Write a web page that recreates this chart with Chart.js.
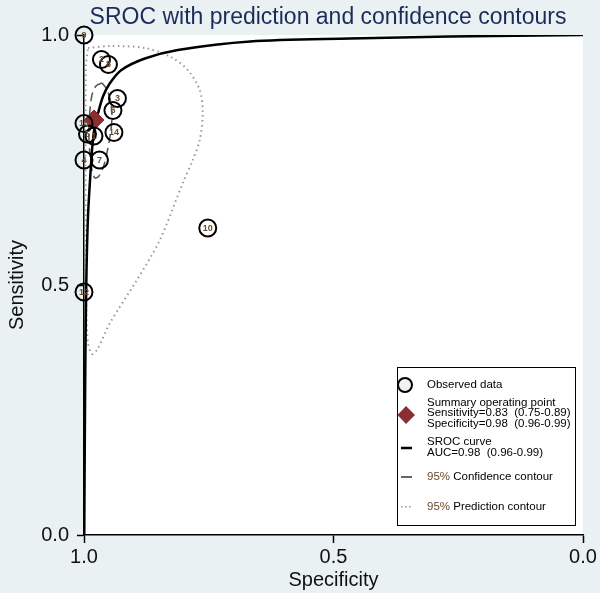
<!DOCTYPE html>
<html>
<head>
<meta charset="utf-8">
<script src="https://cdn.jsdelivr.net/npm/chart.js@4.4.1/dist/chart.umd.min.js"></script>
<style>
  html, body { margin: 0; padding: 0; background: #e9f1f3; }
  #wrap { width: 600px; height: 593px; }
</style>
</head>
<body>
<div id="wrap"><canvas id="sroc" width="600" height="593"></canvas></div>
<script>
// --- dados ---
const studyIds = ['9', '2', '8', '3', '6', '15', '14', '5', '1', '4', '7', '10', '12'];
const obsSpec = [1.000, 0.965, 0.951, 0.933, 0.942, 1.000, 0.940, 0.993, 0.980, 1.000, 0.969, 0.752, 1.000];
const obsSens = [1.000, 0.951, 0.941, 0.873, 0.849, 0.823, 0.805, 0.802, 0.798, 0.750, 0.750, 0.614, 0.486];

const summarySpec = [0.98];
const summarySens = [0.83];

// curva SROC
const srocSpec = [0.9995, 0.9974, 0.9954, 0.992, 0.9854, 0.984, 0.9786, 0.972, 0.962, 0.9485, 0.925, 0.878, 0.812, 0.667, 0.467, 0.267, 0.0];
const srocSens = [0.0, 0.337, 0.504, 0.637, 0.75, 0.77, 0.817, 0.843, 0.877, 0.903, 0.93, 0.953, 0.97, 0.987, 0.993, 0.997, 1.0];

// contorno de confiança 95%
const confSpec = [0.964, 0.976, 0.984, 0.988, 0.990, 0.990, 0.988, 0.984, 0.978, 0.970, 0.960, 0.952, 0.946, 0.944, 0.948, 0.956, 0.964];
const confSens = [0.904, 0.898, 0.880, 0.850, 0.820, 0.790, 0.760, 0.730, 0.714, 0.718, 0.740, 0.774, 0.810, 0.840, 0.874, 0.894, 0.904];

// contorno de predição 95%
const predSpec = [0.992, 0.946, 0.878, 0.826, 0.792, 0.768, 0.762, 0.768, 0.782, 0.802, 0.848, 0.894, 0.948, 0.974, 0.984, 0.992, 0.995, 0.996, 0.997, 0.997, 0.996, 0.992];
const predSens = [0.974, 0.978, 0.974, 0.956, 0.930, 0.890, 0.844, 0.790, 0.750, 0.704, 0.590, 0.510, 0.424, 0.370, 0.362, 0.384, 0.444, 0.570, 0.710, 0.850, 0.940, 0.974];

const xTicks = [1.0, 0.5, 0.0];
const yTicks = [0.0, 0.5, 1.0];

const toPts = (xs, ys) => xs.map((x, i) => ({ x: x, y: ys[i] }));

// fundo azul claro + área branca
const bgPlugin = {
  id: 'bg',
  beforeDraw(chart) {
    const { ctx, chartArea: a } = chart;
    ctx.save();
    ctx.fillStyle = '#e9f1f3';
    ctx.fillRect(0, 0, chart.width, chart.height);
    ctx.fillStyle = '#ffffff';
    ctx.fillRect(a.left, a.top, a.right - a.left, a.bottom - a.top);
    ctx.restore();
  }
};

// título, números dos estudos e legenda
const extrasPlugin = {
  id: 'extras',
  afterDatasetsDraw(chart) {
    const ctx = chart.ctx;
    const meta = chart.getDatasetMeta(3);
    ctx.save();
    ctx.font = 'bold 9px "Liberation Sans", Arial, sans-serif';
    ctx.fillStyle = '#6b4a2a';
    ctx.textAlign = 'center';
    ctx.textBaseline = 'middle';
    meta.data.forEach((pt, i) => {
      ctx.fillText(studyIds[i], pt.x, pt.y + 0.5);
    });
    ctx.restore();
  },
  afterDraw(chart) {
    const { ctx } = chart;
    ctx.save();
    // título
    ctx.font = '23px "Liberation Sans", Arial, sans-serif';
    ctx.fillStyle = '#1c2b5a';
    ctx.textAlign = 'center';
    ctx.textBaseline = 'middle';
    ctx.fillText('SROC with prediction and confidence contours', 328, 18);

    // legenda
    const bx = 397, by = 367, bw = 178, bh = 158;
    ctx.fillStyle = '#ffffff';
    ctx.fillRect(bx, by, bw, bh);
    ctx.strokeStyle = '#000';
    ctx.lineWidth = 1;
    ctx.strokeRect(bx + 0.5, by + 0.5, bw, bh);

    const tx = 427;
    ctx.font = '11.5px "Liberation Sans", Arial, sans-serif';
    ctx.textAlign = 'left';
    ctx.fillStyle = '#000';

    // círculo
    ctx.beginPath();
    ctx.arc(405, 385, 7, 0, Math.PI * 2);
    ctx.fillStyle = '#f2f2f2';
    ctx.fill();
    ctx.lineWidth = 2;
    ctx.stroke();
    ctx.fillStyle = '#000';
    ctx.fillText('Observed data', tx, 385);

    // losango
    ctx.beginPath();
    ctx.moveTo(406, 406);
    ctx.lineTo(415, 415);
    ctx.lineTo(406, 424);
    ctx.lineTo(397.5, 415);
    ctx.closePath();
    ctx.fillStyle = '#8b2d35';
    ctx.fill();
    ctx.fillStyle = '#000';
    ctx.fillText('Summary operating point', tx, 403);
    ctx.fillText('Sensitivity=0.83  (0.75-0.89)', tx, 413);
    ctx.fillText('Specificity=0.98  (0.96-0.99)', tx, 424);

    // SROC
    ctx.beginPath();
    ctx.moveTo(401, 448);
    ctx.lineTo(412, 448);
    ctx.lineWidth = 2.5;
    ctx.strokeStyle = '#000';
    ctx.stroke();
    ctx.fillText('SROC curve', tx, 442);
    ctx.fillText('AUC=0.98  (0.96-0.99)', tx, 453);

    // confiança
    ctx.beginPath();
    ctx.moveTo(401, 477);
    ctx.lineTo(412, 477);
    ctx.lineWidth = 1.5;
    ctx.strokeStyle = '#333';
    ctx.stroke();

    // predição
    ctx.fillStyle = '#999';
    [401, 405, 409].forEach(x => ctx.fillRect(x, 506, 1.5, 1.5));

    const w95 = (y, rest) => {
      ctx.fillStyle = '#6b4a2a';
      ctx.fillText('95%', tx, y);
      const w = ctx.measureText('95% ').width;
      ctx.fillStyle = '#000';
      ctx.fillText(rest, tx + w, y);
    };
    w95(477, 'Confidence contour');
    w95(507, 'Prediction contour');
    ctx.restore();
  }
};

document.addEventListener('DOMContentLoaded', () => {
  const ctx = document.getElementById('sroc').getContext('2d');
  const font20 = { family: '"Liberation Sans", Arial, sans-serif', size: 20 };

  new Chart(ctx, {
    type: 'scatter',
    data: {
      datasets: [
        {
          label: '95% Prediction contour',
          data: toPts(predSpec, predSens),
          showLine: true,
          borderColor: '#9a9a9a',
          borderWidth: 2,
          borderDash: [1.5, 3.5],
          pointRadius: 0,
          tension: 0.3,
          order: 5
        },
        {
          label: '95% Confidence contour',
          data: toPts(confSpec, confSens),
          showLine: true,
          borderColor: '#555',
          borderWidth: 1.5,
          borderDash: [9, 5],
          pointRadius: 0,
          tension: 0.3,
          order: 4
        },
        {
          label: 'SROC curve',
          data: toPts(srocSpec, srocSens),
          showLine: true,
          borderColor: '#000',
          borderWidth: 2.5,
          pointRadius: 0,
          tension: 0.3,
          order: 3
        },
        {
          label: 'Observed data',
          data: toPts(obsSpec, obsSens),
          pointRadius: 8.5,
          pointBackgroundColor: 'rgba(255,255,255,0)',
          pointBorderColor: '#000',
          pointBorderWidth: 2,
          clip: false,
          order: 1
        },
        {
          label: 'Summary operating point',
          data: toPts(summarySpec, summarySens),
          pointStyle: 'rectRot',
          pointRadius: 10,
          pointBackgroundColor: '#8b2d35',
          pointBorderColor: '#8b2d35',
          clip: false,
          order: 2
        }
      ]
    },
    options: {
      responsive: false,
      animation: false,
      layout: { padding: { top: 35, right: 17, left: 0, bottom: 0 } },
      plugins: {
        legend: { display: false },
        tooltip: { enabled: false }
      },
      scales: {
        x: {
          type: 'linear',
          reverse: true,
          min: 0,
          max: 1,
          afterBuildTicks: s => { s.ticks = xTicks.map(v => ({ value: v })); },
          afterFit: s => { s.height = 58; },
          border: { display: true, color: '#000', width: 1.5 },
          grid: { display: true, drawOnChartArea: false, drawTicks: true, tickLength: 8, tickColor: '#000', tickWidth: 1.5 },
          ticks: { font: font20, color: '#111', padding: 2, maxRotation: 0, callback: v => v.toFixed(1) },
          title: { display: true, text: 'Specificity', font: { ...font20, lineHeight: 1.2 }, color: '#111', padding: { top: 0, bottom: 1 } }
        },
        y: {
          type: 'linear',
          min: 0,
          max: 1,
          afterBuildTicks: s => { s.ticks = yTicks.map(v => ({ value: v })); },
          afterFit: s => { s.width = 84; },
          border: { display: true, color: '#000', width: 1.5 },
          grid: { display: true, drawOnChartArea: false, drawTicks: true, tickLength: 7, tickColor: '#000', tickWidth: 1.5 },
          ticks: { font: font20, color: '#111', padding: 8, callback: v => v.toFixed(1) },
          title: { display: true, text: 'Sensitivity', font: { ...font20, lineHeight: 1.2 }, color: '#111', padding: { top: 5, bottom: 0 } }
        }
      }
    },
    plugins: [bgPlugin, extrasPlugin]
  });
});
</script>
</body>
</html>
